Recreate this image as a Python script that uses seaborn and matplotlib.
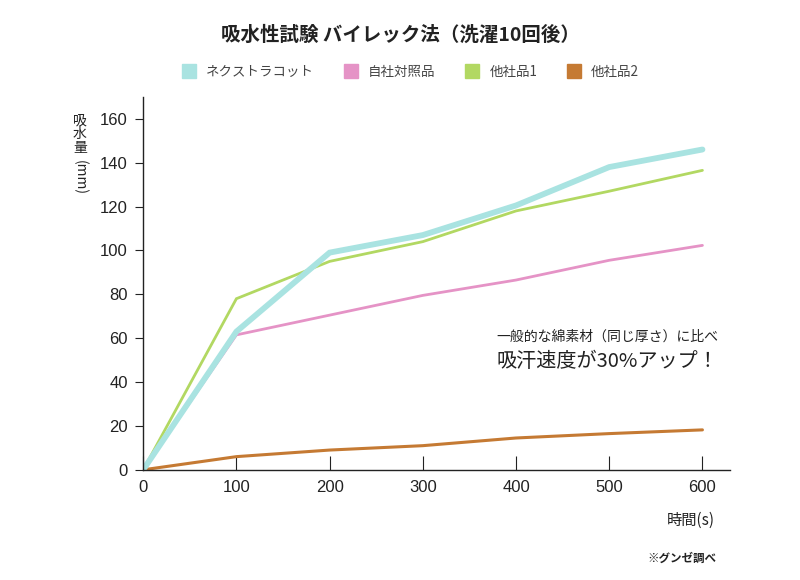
import matplotlib
matplotlib.use("Agg")
import matplotlib.pyplot as plt
from matplotlib.lines import Line2D
import seaborn as sns
import pandas as pd

times = [0, 100, 200, 300, 400, 500, 600]
series_names = ["ネクストラコット", "自社対照品", "他社品1", "他社品2"]
nextra = [0, 63, 99, 107, 120.5, 138, 146]
own = [0, 61.5, 70.5, 79.5, 86.5, 95.5, 102.3]
other1 = [0, 78, 95, 104, 118, 127, 136.5]
other2 = [0, 6, 9, 11, 14.5, 16.5, 18.2]
colors = ["#a9e3e1", "#e593c6", "#b2d862", "#c57a33"]
widths = [4.2, 2.0, 2.0, 2.2]
xticks = [0, 100, 200, 300, 400, 500, 600]
yticks = [0, 20, 40, 60, 80, 100, 120, 140, 160]

sns.set_theme(style="white")
plt.rcParams["font.family"] = ["Noto Sans CJK JP", "DejaVu Sans"]

df = pd.DataFrame({"time": times * 4,
                   "value": nextra + own + other1 + other2,
                   "series": sum([[n] * len(times) for n in series_names], [])})

fig = plt.figure(figsize=(8, 5.8), dpi=100)
ax = fig.add_axes([0.179, 0.19, 0.734, 0.643])

order = [1, 2, 3, 0]
for i in order:
    name = series_names[i]
    sub = df[df["series"] == name]
    sns.lineplot(data=sub, x="time", y="value", color=colors[i], linewidth=widths[i],
                 ax=ax, legend=False, solid_joinstyle="miter")

ax.set_xlim(0, 630)
ax.set_ylim(0, 170)
ax.set_xticks(xticks)
ax.set_yticks(yticks)
ax.set_xlabel("")
ax.set_ylabel("")
for s in ["top", "right"]:
    ax.spines[s].set_visible(False)
for s in ["left", "bottom"]:
    ax.spines[s].set_color("#222222")
    ax.spines[s].set_linewidth(1.0)
ax.tick_params(axis="y", direction="out", length=6, width=0.8, colors="#222222",
               labelsize=12, pad=5, left=True)
ax.tick_params(axis="x", direction="in", length=10, width=0.8, colors="#222222",
               labelsize=12, pad=7, bottom=True)
for lab in ax.get_xticklabels() + ax.get_yticklabels():
    lab.set_color("#222222")
    lab.set_fontfamily(["Liberation Sans", "DejaVu Sans"])

fig.text(0.5, 0.94, "吸水性試験 バイレック法（洗濯10回後）", ha="center", va="center",
         fontsize=14, fontweight="bold", color="#222222")

handles = [Line2D([0], [0], marker="s", linestyle="", markersize=10,
                  markerfacecolor=c, markeredgecolor=c) for c in colors]
fig.legend(handles, series_names, loc="center", bbox_to_anchor=(0.509, 0.876), ncol=4,
           frameon=False, fontsize=9.7, handletextpad=0.3, columnspacing=1.7,
           labelcolor="#444444")

fig.text(0.1, 0.805, "吸\n水\n量", ha="center", va="top", fontsize=10,
         color="#222222", linespacing=1.0)
fig.text(0.1, 0.725, "(mm)", ha="center", va="top", rotation=270, fontsize=10,
         color="#222222")

fig.text(0.863, 0.103, "時間(s)", ha="center", va="center", fontsize=11, color="#222222")
fig.text(0.852, 0.038, "※グンゼ調べ", ha="center", va="center", fontsize=8.3,
         color="#222222", fontweight="bold")

ax.text(0.79, 0.357, "一般的な綿素材（同じ厚さ）に比べ", transform=ax.transAxes,
        ha="center", va="center", fontsize=10, color="#222222")
ax.text(0.79, 0.29, "吸汗速度が30%アップ！", transform=ax.transAxes,
        ha="center", va="center", fontsize=14.5, color="#222222")

fig.savefig("out.png", dpi=100, facecolor="white")
